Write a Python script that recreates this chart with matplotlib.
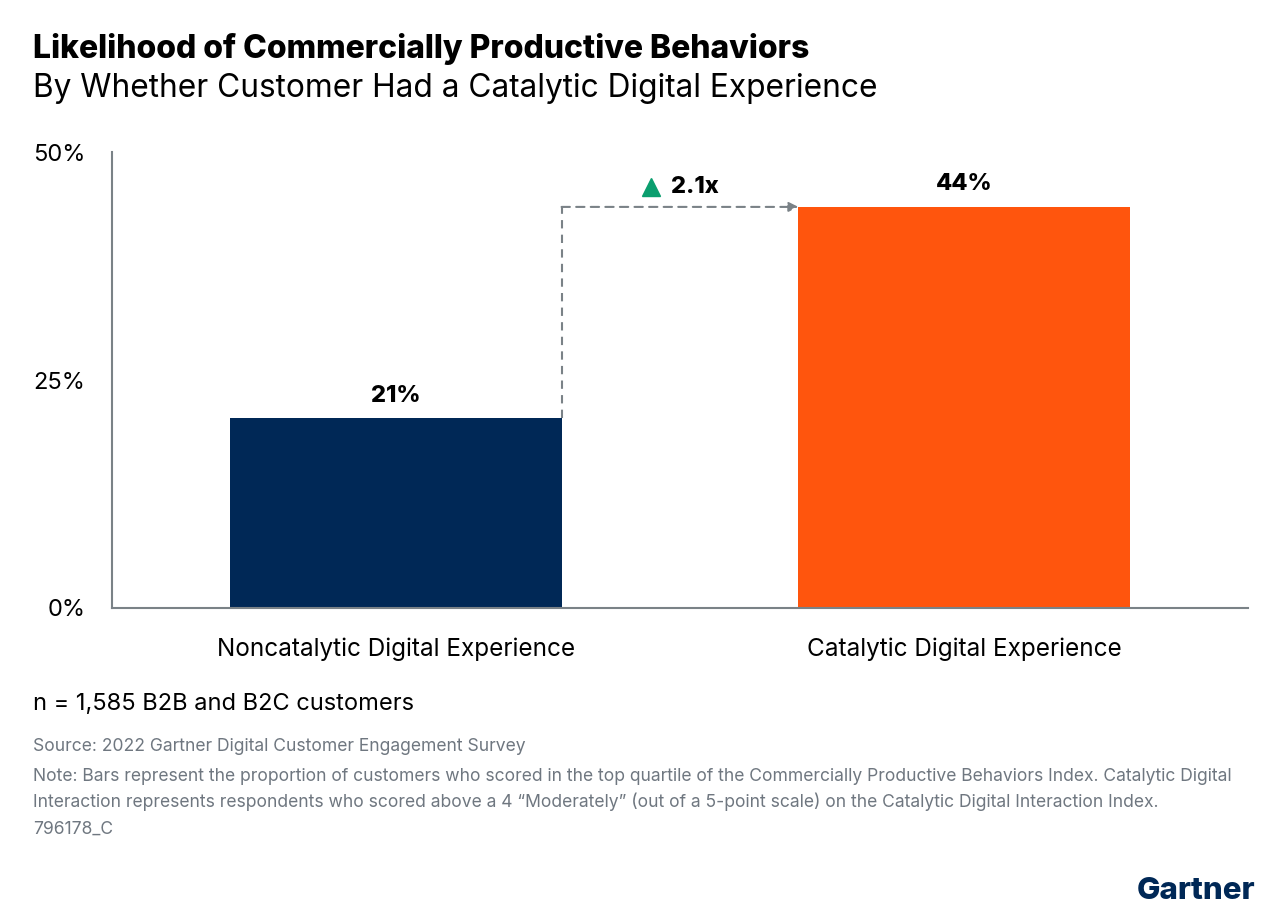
import matplotlib.pyplot as plt

plt.rcParams['font.family'] = ['Inter', 'DejaVu Sans']

categories = ['Noncatalytic Digital Experience', 'Catalytic Digital Experience']
values = [20.8, 44.0]
value_labels = ['21%', '44%']
bar_colors = ['#002856', '#ff550d']
y_ticks = [0, 25, 50]
y_tick_labels = ['0%', '25%', '50%']
multiplier_label = '2.1x'

fig = plt.figure(figsize=(12.8, 9.17), dpi=100)
ax = fig.add_axes([0.0875, 0.337, 0.8875, 0.497])

x = list(range(len(categories)))
ax.bar(x, values, width=0.583, color=bar_colors, zorder=2)

for xi, v, lab in zip(x, values, value_labels):
    ax.text(xi, v + 1.3, lab, ha='center', va='bottom', fontsize=17,
            fontweight='heavy', color='black')

# dashed connector from first bar to second bar
gap = 0.583 / 2
ax.plot([x[0] + gap, x[0] + gap], [values[0], values[1]], ls=(0, (4, 3)),
        color='#7a8287', lw=1.5, zorder=3)
ax.annotate('', xy=(x[1] - gap, values[1]), xytext=(x[0] + gap, values[1]),
            arrowprops=dict(arrowstyle='-|>', color='#7a8287', lw=1.5,
                            linestyle=(0, (4, 3)), mutation_scale=14,
                            shrinkA=0, shrinkB=0), zorder=3)
ax.plot([0.449], [46.2], marker='^', color='#0a9e6e', markersize=13, zorder=3)
ax.text(0.484, 46.2, multiplier_label, ha='left', va='center', fontsize=17,
        fontweight='heavy', color='black')

ax.set_xlim(-0.5, 1.5)
ax.set_ylim(0, 50)
ax.set_yticks(y_ticks)
ax.set_yticklabels(y_tick_labels)
ax.set_xticks(x)
ax.set_xticklabels(categories)
ax.tick_params(axis='y', length=0, pad=19, labelsize=17)
ax.tick_params(axis='x', length=0, pad=21, labelsize=17.5)
for sp in ['top', 'right']:
    ax.spines[sp].set_visible(False)
for sp in ['left', 'bottom']:
    ax.spines[sp].set_color('#7a8287')
    ax.spines[sp].set_linewidth(1.5)

fig.text(0.026, 0.947, 'Likelihood of Commercially Productive Behaviors',
         fontsize=23, fontweight='heavy', va='center')
fig.text(0.026, 0.904, 'By Whether Customer Had a Catalytic Digital Experience',
         fontsize=22.8, va='center')

fig.text(0.026, 0.232, 'n = 1,585 B2B and B2C customers', fontsize=17, va='center')
grey = '#6f7780'
fig.text(0.026, 0.186, 'Source: 2022 Gartner Digital Customer Engagement Survey',
         fontsize=12.6, color=grey, va='center')
fig.text(0.026, 0.153,
         'Note: Bars represent the proportion of customers who scored in the top quartile '
         'of the Commercially Productive Behaviors Index. Catalytic Digital',
         fontsize=12.6, color=grey, va='center')
fig.text(0.026, 0.126,
         'Interaction represents respondents who scored above a 4 \u201cModerately\u201d '
         '(out of a 5-point scale) on the Catalytic Digital Interaction Index.',
         fontsize=12.6, color=grey, va='center')
fig.text(0.026, 0.096, '796178_C', fontsize=12.6, color=grey, va='center')

fig.text(0.981, 0.028, 'Gartner', fontsize=22.5, fontweight='heavy',
         color='#002856', ha='right', va='center')

fig.savefig('out.png', dpi=100)
